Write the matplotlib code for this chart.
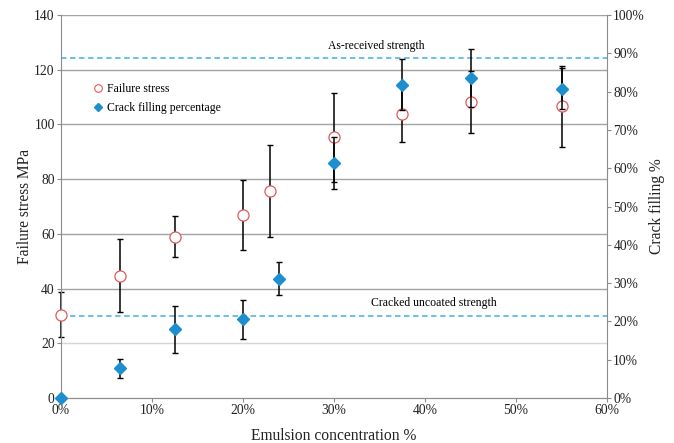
import matplotlib
matplotlib.use("Agg")
import matplotlib.pyplot as plt
from matplotlib.lines import Line2D
from matplotlib.ticker import PercentFormatter, MultipleLocator

plt.rcParams['font.family'] = ['Liberation Serif', 'DejaVu Serif']

# emulsion concentration (fraction) for each series
stress_x = [0.0, 0.065, 0.125, 0.20, 0.23, 0.30, 0.375, 0.45, 0.55]
stress_mpa = [30.4, 44.7, 59.0, 66.9, 75.8, 95.3, 103.9, 108.3, 106.7]
stress_err = [8.2, 13.3, 7.6, 12.8, 16.8, 16.3, 10.2, 11.3, 14.8]

fill_x = [0.0, 0.065, 0.125, 0.20, 0.24, 0.30, 0.375, 0.45, 0.55]
fill_pct = [0.0, 0.078, 0.179, 0.205, 0.312, 0.613, 0.818, 0.835, 0.808]
fill_err = [0.0, 0.025, 0.062, 0.050, 0.042, 0.068, 0.066, 0.076, 0.054]

as_received = 124.3
cracked_uncoated = 30.1

red = '#e05a5a'
blue = '#1d8fcf'
dash_blue = '#5cbde8'

fig = plt.figure(figsize=(6.74, 4.43), dpi=100)
ax = fig.add_axes([0.0905, 0.1016, 0.8101, 0.8645])
ax2 = ax.twinx()

# gridlines follow the left axis
for v in range(20, 141, 20):
    ax.axhline(v, color='#d6d6d6' if v == 20 else '#a3a3a3', lw=1.0, zorder=0)

ax.axhline(as_received, color=dash_blue, lw=1.3, ls=(0, (3, 2)), zorder=1)
ax.axhline(cracked_uncoated, color=dash_blue, lw=1.3, ls=(0, (3, 2)), zorder=1)
ax.text(0.346, as_received + 2.0, 'As-received strength', ha='center', va='bottom', fontsize=8.4)
ax.text(0.41, cracked_uncoated + 2.5, 'Cracked uncoated strength', ha='center', va='bottom', fontsize=8.5)

eb = ax.errorbar(stress_x, stress_mpa, yerr=stress_err, fmt='none', ecolor='black',
                 elinewidth=1.1, capsize=2.5, capthick=1.0, zorder=2)
for art in eb.lines[1] + eb.lines[2]:
    art.set_clip_on(False)
ax.plot(stress_x, stress_mpa, 'o', ms=8, mfc='white', mec=red, mew=0.9, zorder=3, clip_on=False)

ax2.errorbar(fill_x[1:], fill_pct[1:], yerr=fill_err[1:], fmt='none', ecolor='black',
             elinewidth=1.1, capsize=2.5, capthick=1.0, zorder=2)
ax2.plot(fill_x, fill_pct, 'D', ms=6.5, color=blue, mec=blue, zorder=3, clip_on=False)

ax.set_xlim(0, 0.6)
ax.set_ylim(0, 140)
ax2.set_ylim(0, 1.0)
ax.xaxis.set_major_locator(MultipleLocator(0.1))
ax.xaxis.set_major_formatter(PercentFormatter(1.0, decimals=0))
ax.yaxis.set_major_locator(MultipleLocator(20))
ax2.yaxis.set_major_locator(MultipleLocator(0.1))
ax2.yaxis.set_major_formatter(PercentFormatter(1.0, decimals=0))

for a in (ax, ax2):
    a.spines['top'].set_visible(False)
    for s in ('left', 'right', 'bottom'):
        a.spines[s].set_color('#8c8c8c')
    a.tick_params(axis='both', colors='#8c8c8c', labelcolor='#222222', labelsize=9.8,
                  length=3, width=0.8, pad=1.5)
ax2.spines['left'].set_visible(False)
ax.spines['right'].set_visible(False)

ax.set_xlabel('Emulsion concentration %', fontsize=11.2, color='#222222', labelpad=8)
ax.set_ylabel('Failure stress MPa', fontsize=11.2, color='#222222', labelpad=1)
ax2.set_ylabel('Crack filling %', fontsize=11.2, color='#222222', labelpad=3)

handles = [
    Line2D([], [], ls='none', marker='o', ms=5.5, mfc='white', mec=red, mew=0.8),
    Line2D([], [], ls='none', marker='D', ms=4.5, color=blue),
]
ax2.legend(handles, ['Failure stress', 'Crack filling percentage'], loc='upper left',
           bbox_to_anchor=(0.035, 0.85), frameon=False, fontsize=8.5,
           handletextpad=0.2, labelspacing=0.6, handlelength=1.2)

fig.savefig('out.png', dpi=100, facecolor='white')
